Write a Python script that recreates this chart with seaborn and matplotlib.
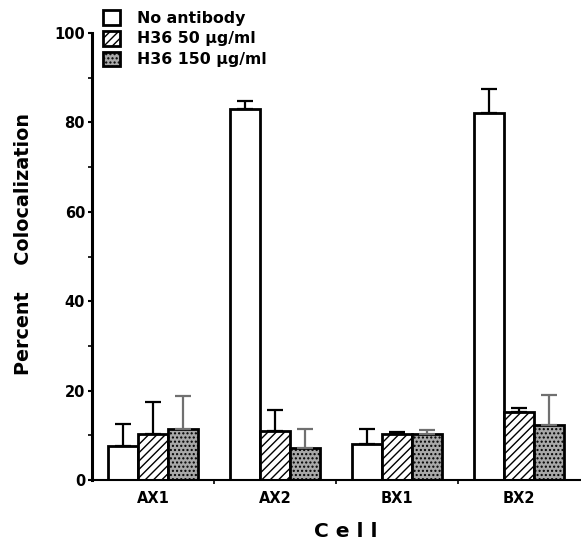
import matplotlib
matplotlib.use("Agg")
import matplotlib.pyplot as plt
import matplotlib.patches as mpatches
import seaborn as sns
import pandas as pd
import numpy as np

cells = ["AX1", "AX2", "BX1", "BX2"]
series = ["No antibody", "H36 50 \u00b5g/ml", "H36 150 \u00b5g/ml"]
no_antibody = [7.7, 83.0, 8.1, 82.0]
h36_50 = [10.2, 11.0, 10.3, 15.3]
h36_150 = [11.5, 7.2, 10.4, 12.4]
err_no_antibody = [4.9, 1.8, 3.2, 5.5]
err_h36_50 = [7.3, 4.7, 0.5, 0.9]
err_h36_150 = [7.4, 4.2, 0.8, 6.6]

values = [no_antibody, h36_50, h36_150]
errors = [err_no_antibody, err_h36_50, err_h36_150]

rows = []
for s, vals in zip(series, values):
    for c, v in zip(cells, vals):
        rows.append({"Cell": c, "Series": s, "Value": v})
df = pd.DataFrame(rows)

sns.set_theme(style="ticks")
plt.rcParams["font.family"] = ["DejaVu Sans"]
plt.rcParams["hatch.linewidth"] = 1.0
for k in ["text.color", "axes.labelcolor", "xtick.color", "ytick.color",
          "axes.edgecolor"]:
    plt.rcParams[k] = "black"

fig = plt.figure(figsize=(5.81, 5.43), dpi=100)
ax = fig.add_axes([92/581, 1 - 480/543, (580-92)/581, (480-33)/543])

hatches = ["", "////", "...."]
fills = ["white", "white", "#a8a8a8"]

sns.barplot(data=df, x="Cell", y="Value", hue="Series", order=cells,
            hue_order=series, errorbar=None, width=0.74, ax=ax,
            palette=fills, saturation=1,
            edgecolor="black", linewidth=2.0, legend=False)

bar_containers = list(ax.containers)
for i, cont in enumerate(bar_containers):
    for j, bar in enumerate(cont.patches):
        bar.set_hatch(hatches[i])
        bar.set_facecolor(fills[i])
        bar.set_edgecolor("black")
        bar.set_linewidth(2.0)
        x = bar.get_x() + bar.get_width() / 2
        h = bar.get_height()
        col = "black" if i < 2 else "#707070"
        ax.errorbar(x, h, yerr=[[0], [errors[i][j]]], fmt="none",
                    ecolor=col, elinewidth=1.6, capsize=6, capthick=1.6,
                    zorder=1)

ax.set_ylim(0, 100)
ax.set_xlim(-0.5, 3.5)
ax.set_yticks([0, 20, 40, 60, 80, 100])
ax.set_yticks([10, 30, 50, 70, 90], minor=True)
ax.set_xticks([0.5, 1.5, 2.5], minor=True)
ax.tick_params(axis="y", which="major", length=3, width=1.5, labelsize=10.5, pad=2)
ax.tick_params(axis="y", which="minor", length=3, width=1.2)
ax.tick_params(axis="x", which="major", length=0, labelsize=10.5, pad=8)
ax.tick_params(axis="x", which="minor", length=3, width=1.2)
for lbl in ax.get_xticklabels() + ax.get_yticklabels():
    lbl.set_fontweight("bold")
sns.despine(ax=ax)
ax.spines["left"].set_linewidth(2.2)
ax.spines["bottom"].set_linewidth(1.5)

ax.set_xlabel("C e l l", fontsize=14.5, fontweight="bold")
ax.xaxis.set_label_coords(0.52, -0.095)
ax.set_ylabel("Percent    Colocalization", fontsize=13.8, fontweight="bold")
ax.yaxis.set_label_coords(-0.12, 0.529)

handles = [mpatches.Patch(facecolor=fills[i], edgecolor="black",
                          hatch=hatches[i], linewidth=2.0)
           for i in range(3)]
leg = fig.legend(handles, series, loc="upper left",
                 bbox_to_anchor=(103/581, 1 - 10/543), frameon=False,
                 fontsize=11.3, handlelength=1.07, handleheight=1.07,
                 handletextpad=1.1, labelspacing=0.32, borderaxespad=0,
                 borderpad=0)
for t in leg.get_texts():
    t.set_fontweight("bold")

fig.savefig("out.png", dpi=100)
